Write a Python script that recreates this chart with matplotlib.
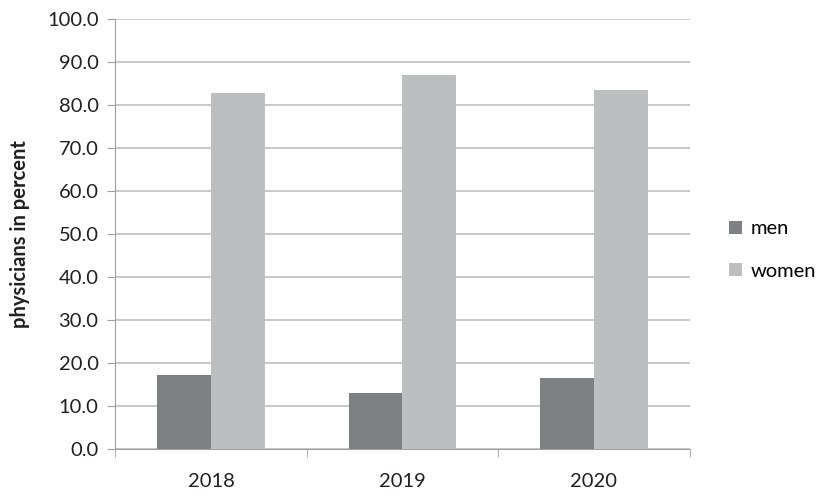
import matplotlib
matplotlib.use("Agg")
import matplotlib.pyplot as plt
import numpy as np

years = ["2018", "2019", "2020"]
men = [17.3, 13.0, 16.5]
women = [82.8, 87.0, 83.5]

plt.rcParams['font.family'] = ['Lato', 'DejaVu Sans']

fig = plt.figure(figsize=(8.29, 4.99), dpi=100)
ax = fig.add_axes([0.139, 0.1, 0.693, 0.862])

x = np.arange(len(years))
w = 0.28
ax.bar(x - w / 2, men, w, color='#7f8083', label='men', zorder=3)
ax.bar(x + w / 2, women, w, color='#bdbec0', label='women', zorder=3)

ax.set_xlim(-0.5, len(years) - 0.5)
ax.set_ylim(0, 100)
ax.set_yticks(np.arange(0, 101, 10))
ax.set_yticklabels(["%.1f" % v for v in np.arange(0, 101, 10)], fontsize=14.5, color='#231f20')
ax.set_xticks(x)
ax.set_xticklabels(years, fontsize=14.5, color='#231f20')
ax.set_xticks(np.arange(-0.5, len(years), 1), minor=True)
ax.tick_params(axis='x', which='major', length=0, pad=17)
ax.tick_params(axis='x', which='minor', length=6, color='#a0a0a0', direction='out')
ax.tick_params(axis='y', length=6, color='#a0a0a0', direction='out', pad=6)

ax.grid(axis='y', color='#bfbfbf', linewidth=1.2, zorder=0)
for s in ['top', 'right']:
    ax.spines[s].set_visible(False)
for s in ['left', 'bottom']:
    ax.spines[s].set_color('#a0a0a0')
ax.spines['left'].set_zorder(4)

ax.set_ylabel('physicians in percent', fontsize=14.5, fontweight='bold', color='#231f20', labelpad=12)

ax.legend(loc='center left', bbox_to_anchor=(1.036, 0.463), frameon=False, fontsize=14.5,
          handlelength=0.65, handleheight=0.65, labelspacing=1.25, handletextpad=0.45)

fig.savefig('out.png', dpi=100)
